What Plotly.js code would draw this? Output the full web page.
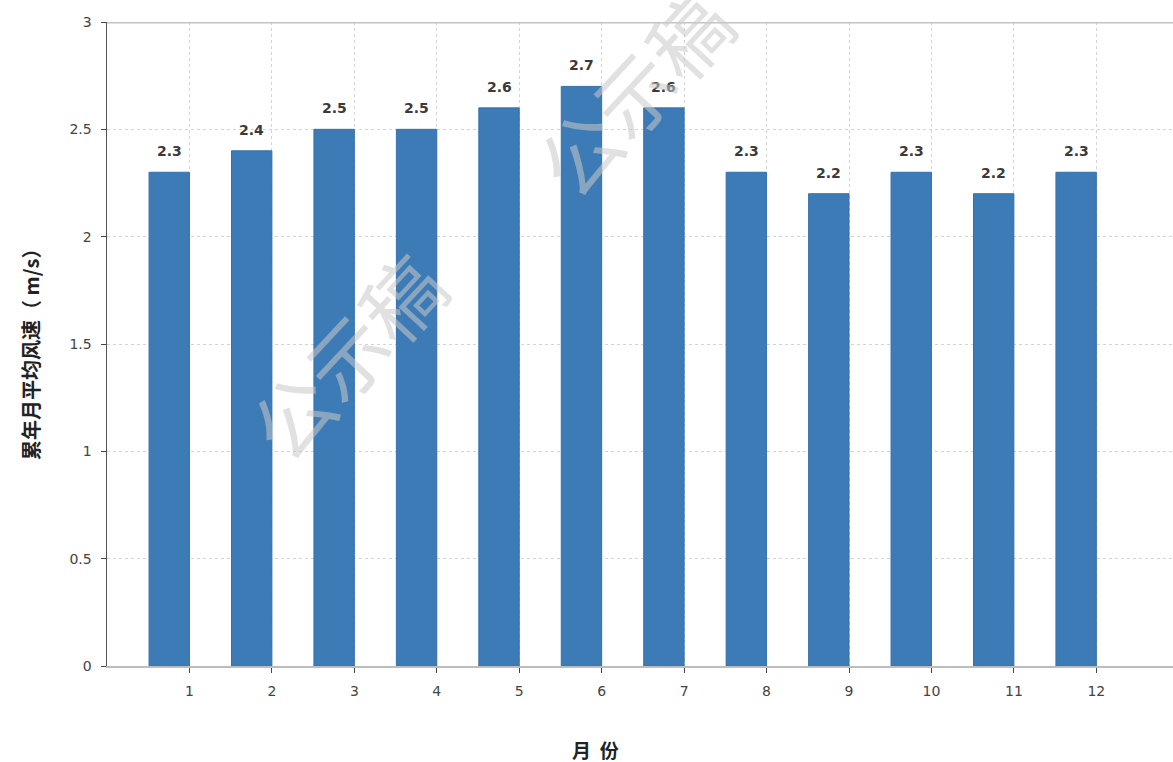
<!DOCTYPE html>
<html>
<head>
<meta charset="utf-8">
<script src="https://cdn.plot.ly/plotly-3.0.1.min.js"></script>
<style>
html,body{margin:0;padding:0;background:#fff;}
#chart{width:1173px;height:762px;}
</style>
</head>
<body>
<div id="chart"></div>
<script>
const months = [1,2,3,4,5,6,7,8,9,10,11,12];
const monthLabels = ["1","2","3","4","5","6","7","8","9","10","11","12"];
const windSpeed = [2.3,2.4,2.5,2.5,2.6,2.7,2.6,2.3,2.2,2.3,2.2,2.3];
const yTicks = [0,0.5,1,1.5,2,2.5,3];
const yTickLabels = ["0","0.5","1","1.5","2","2.5","3"];

const barWidth = 0.49;

const trace = {
  type: 'bar',
  x: months,
  y: windSpeed,
  width: barWidth,
  offset: -barWidth,
  marker: {color: '#3d7bb6', line: {color: '#3571ad', width: 1}},
  hoverinfo: 'none'
};

const labelAnnotations = months.map((m, i) => ({
  x: m - barWidth / 2,
  y: windSpeed[i],
  xref: 'x', yref: 'y',
  text: '<b>' + windSpeed[i].toFixed(1) + '</b>',
  showarrow: false,
  yanchor: 'bottom',
  yshift: 11,
  font: {family: 'DejaVu Sans, sans-serif', size: 14, color: '#3a3a3a'}
}));

const watermark = [
  {x: 345, y: 355},
  {x: 632, y: 92}
].map(p => ({
  x: (p.x - 107) / (1173 - 107),
  y: (666 - p.y) / (666 - 22),
  xref: 'paper', yref: 'paper',
  xanchor: 'center', yanchor: 'middle',
  text: '公示稿',
  showarrow: false,
  textangle: -47,
  font: {family: 'Noto Sans CJK SC', size: 80, color: 'rgba(200,200,200,0.55)'}
}));

const layout = {
  width: 1173, height: 762,
  margin: {l: 107, r: 0, t: 22, b: 96},
  paper_bgcolor: '#fff',
  plot_bgcolor: '#fff',
  showlegend: false,
  bargap: 0,
  xaxis: {
    range: [0, 12.93],
    tickmode: 'array',
    tickvals: months,
    ticktext: monthLabels,
    ticks: 'outside',
    ticklen: 5,
    tickcolor: '#444',
    ticklabelstandoff: 6,
    tickfont: {family: 'DejaVu Sans, sans-serif', size: 14, color: '#444'},
    showgrid: true,
    gridcolor: '#d4d4d4',
    griddash: 'dot',
    gridwidth: 1,
    showline: true,
    linecolor: '#bdbdbd',
    linewidth: 2,
    zeroline: false,
    fixedrange: true
  },
  yaxis: {
    range: [0, 3],
    tickmode: 'array',
    tickvals: yTicks,
    ticktext: yTickLabels,
    ticks: 'outside',
    ticklen: 5,
    tickcolor: '#444',
    ticklabelstandoff: 6,
    tickfont: {family: 'DejaVu Sans, sans-serif', size: 14, color: '#444'},
    showgrid: true,
    gridcolor: '#d4d4d4',
    griddash: 'dot',
    gridwidth: 1,
    showline: true,
    linecolor: '#555',
    linewidth: 1.5,
    zeroline: false,
    fixedrange: true
  },
  shapes: [
    {type: 'line', xref: 'paper', yref: 'y', x0: 0, x1: 1, y0: 3, y1: 3,
     line: {color: '#c4c4c4', width: 3}}
  ],
  annotations: labelAnnotations.concat(watermark).concat([
    {
      x: (595 - 107) / (1173 - 107), y: 0,
      xref: 'paper', yref: 'paper',
      yanchor: 'top', yshift: -68,
      text: '<b>月&nbsp;&nbsp;份</b>',
      showarrow: false,
      font: {family: 'Noto Sans CJK SC', size: 19, color: '#222'}
    },
    {
      x: -77 / (1173 - 107), y: (666 - 350) / (666 - 22),
      xref: 'paper', yref: 'paper',
      xanchor: 'center', yanchor: 'middle',
      textangle: -90,
      text: '<b>累年月平均风速（ m/s）</b>',
      showarrow: false,
      font: {family: 'Noto Sans CJK SC', size: 20, color: '#222'}
    }
  ])
};

Plotly.newPlot('chart', [trace], layout, {displayModeBar: false, staticPlot: true});
</script>
</body>
</html>
